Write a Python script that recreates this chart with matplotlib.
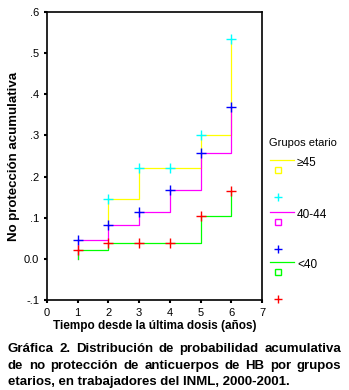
import matplotlib
matplotlib.use('Agg')
import matplotlib.pyplot as plt
from matplotlib.lines import Line2D

plt.rcParams['font.family'] = ['Liberation Sans', 'DejaVu Sans']

# Data: event times and cumulative non-protection
t_45 = [2, 3, 4, 5, 6]
y_45 = [0.145, 0.22, 0.22, 0.30, 0.535]
start_45 = 0.08

t_40 = [1, 2, 3, 4, 5, 6]
y_40 = [0.047, 0.082, 0.113, 0.168, 0.257, 0.37]
start_40 = 0.0

t_lt40 = [1, 2, 3, 4, 5, 6]
y_lt40 = [0.022, 0.039, 0.039, 0.039, 0.105, 0.165]
start_lt40 = 0.0

groups = ['\u226545', '40-44', '<40']
line_colors = ['#ffff00', '#ff00ff', '#00ff00']
mark_colors = ['#00ffff', '#0000ff', '#ff0000']

x_ticks = [0, 1, 2, 3, 4, 5, 6, 7]
y_ticks = [-0.1, 0.0, 0.1, 0.2, 0.3, 0.4, 0.5, 0.6]
y_tick_labels = ['-.1', '0.0', '.1', '.2', '.3', '.4', '.5', '.6']

caption = ['Gráfica 2. Distribución de probabilidad acumulativa',
           'de no protección de anticuerpos de HB por grupos',
           'etarios, en trabajadores del INML, 2000-2001.']

W, H = 349, 390
fig = plt.figure(figsize=(W / 100, H / 100), dpi=100)
ax = fig.add_axes([47 / W, 1 - 300 / H, 215 / W, 288 / H])

series = [(t_45, y_45, start_45), (t_40, y_40, start_40), (t_lt40, y_lt40, start_lt40)]
for (t, y, s), lc in zip(series, line_colors):
    ax.step([t[0]] + t, [s] + y, where='post', color=lc, lw=0.9)
for (t, y, s), mc in zip(series, mark_colors):
    ax.plot(t, y, ls='none', marker='+', ms=7, mew=1.0, color=mc)

ax.set_xlim(0, 7)
ax.set_ylim(-0.1, 0.6)
ax.set_xticks(x_ticks)
ax.set_yticks(y_ticks)
ax.set_yticklabels(y_tick_labels)
ax.tick_params(direction='out', length=2.5, width=1.5, labelsize=8, pad=3)
for sp in ax.spines.values():
    sp.set_linewidth(1.2)
ax.set_xlabel('Tiempo desde la última dosis (años)', fontsize=8.5, fontweight='bold', labelpad=2)
ax.set_ylabel('No protección acumulativa', fontsize=9.5, fontweight='bold')
ax.yaxis.set_label_coords(-27 / 215, 0.5)


def px(x, y):
    return x / W, 1 - y / H


# legend drawn by hand, SPSS style
fig.text(*px(269, 143), 'Grupos etario', fontsize=8, va='center', ha='left')
rows = [160, 212, 262]
for i, (g, lc, mc) in enumerate(zip(groups, line_colors, mark_colors)):
    r = rows[i]
    x0, y0 = px(270, r)
    x1, _ = px(294, r)
    fig.add_artist(Line2D([x0, x1], [y0, y0], color=lc, lw=0.9, transform=fig.transFigure))
    fig.add_artist(Line2D([px(278, r + 10)[0]], [px(278, r + 10)[1]], marker='s', ms=4,
                          mfc='none', mec=lc, mew=1.0, ls='none', transform=fig.transFigure))
    fig.add_artist(Line2D([px(278, r + 37)[0]], [px(278, r + 37)[1]], marker='+', ms=6,
                          mew=1.0, color=mc, ls='none', transform=fig.transFigure))
    fig.text(*px(297, r + 3), g, fontsize=8.5, va='center', ha='left')

# caption, justified like the original
renderer = fig.canvas.get_renderer()
left, right = 8, 341
baselines = [352, 369, 385]
for k, line in enumerate(caption):
    words = line.split(' ')
    if k == len(caption) - 1:
        fig.text(*px(left, baselines[k]), line, fontsize=9.5, fontweight='bold',
                 va='baseline', ha='left')
        continue
    texts = [fig.text(0, 0, w, fontsize=9.5, fontweight='bold', va='baseline', ha='left')
             for w in words]
    widths = [t.get_window_extent(renderer).width for t in texts]
    gap = (right - left - sum(widths)) / (len(words) - 1)
    xpos = left
    for t, w in zip(texts, widths):
        t.set_position(px(xpos, baselines[k]))
        xpos += w + gap

fig.savefig('out.png', dpi=100)
